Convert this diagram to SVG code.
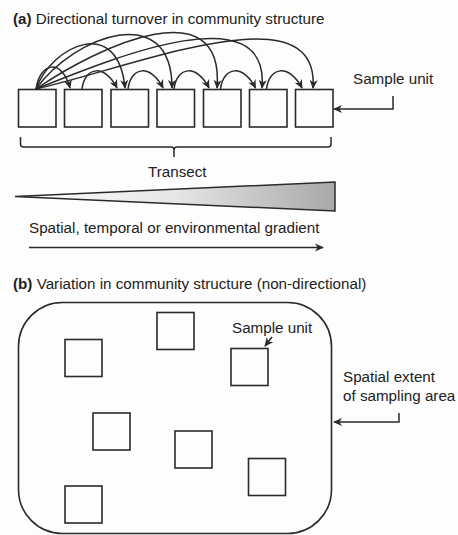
<svg xmlns="http://www.w3.org/2000/svg" width="458" height="535" viewBox="0 0 458 535">
<style>
text{font-family:"Liberation Sans",Arial,sans-serif;font-size:15.2px;fill:#222}
.b{font-weight:bold}
.box{fill:none;stroke:#2a2a2a;stroke-width:1.6}
.ln{fill:none;stroke:#2a2a2a;stroke-width:1.5}
.arr{fill:none;stroke:#2a2a2a;stroke-width:1.5;marker-end:url(#ah)}
</style>
<defs>
<marker id="ah" viewBox="0 0 10 10" refX="9" refY="5" markerWidth="9" markerHeight="9" orient="auto" markerUnits="userSpaceOnUse">
<path d="M0,0.5 L10,5 L0,9.5 L3,5 z" fill="#2a2a2a"/>
</marker>
<linearGradient id="wg" x1="0" y1="0" x2="1" y2="0">
<stop offset="0" stop-color="#ffffff"/>
<stop offset="0.5" stop-color="#e6e6e6"/>
<stop offset="1" stop-color="#a8a8a8"/>
</linearGradient>
</defs>
<rect width="458" height="535" fill="#fdfdfd"/>
<g id="title-a"><text x="13" y="24"><tspan class="b">(a)</tspan> Directional turnover in community structure</text></g>
<g id="transect-units">
<rect class="box" x="18.5" y="89.5" width="37.5" height="37.5"/>
<rect class="box" x="64.5" y="89.5" width="37.5" height="37.5"/>
<rect class="box" x="111" y="89.5" width="37.5" height="37.5"/>
<rect class="box" x="157" y="89.5" width="37.5" height="37.5"/>
<rect class="box" x="203.5" y="89.5" width="37.5" height="37.5"/>
<rect class="box" x="249.5" y="89.5" width="37.5" height="37.5"/>
<rect class="box" x="295.5" y="89.5" width="37.5" height="37.5"/>
</g>
<g id="connectors">
<path class="arr" d="M36,89 C40,62 62,58 70,88"/>
<path class="arr" d="M36,89 C52,45 118,15 125,88"/>
<path class="arr" d="M36,89 C75,35 172,0 172,88"/>
<path class="arr" d="M36,89 C100,45 225,-12 217,88"/>
<path class="arr" d="M36,89 C120,55 270,-5 262,88"/>
<path class="arr" d="M36,89 C140,65 320,-10 313,88"/>
<path class="arr" d="M82,89 C85,66 105,64 117,88"/>
<path class="arr" d="M128,89 C131,66 151,64 163,88"/>
<path class="arr" d="M174,89 C177,66 197,64 209,88"/>
<path class="arr" d="M220.5,89 C223.5,66 243.5,64 255.5,88"/>
<path class="arr" d="M266.5,89 C269.5,66 289.5,64 302,88"/>
<path class="arr" d="M393,96 V109 H334"/>
<path class="ln" d="M20.5,137 V144 Q20.5,147 23.5,147 H171 Q174,147 174,150 V157 M174,150 Q174,147 177,147 H328 Q331,147 331,144 V137"/>
<path class="arr" d="M29,247.5 H323"/>
<path class="arr" d="M272,337 L265,346"/>
<path class="arr" d="M399,413 V422 H334"/>
</g>
<g id="label-sample-a"><text x="353" y="84">Sample unit</text></g>
<g id="label-transect"><text x="148" y="177">Transect</text></g>
<g id="wedge"><polygon points="15,196.5 335,182 335,211" fill="url(#wg)" stroke="#2a2a2a" stroke-width="1.5" stroke-linejoin="miter"/></g>
<g id="label-gradient"><text x="29" y="233">Spatial, temporal or environmental gradient</text></g>
<g id="title-b"><text x="13" y="289"><tspan class="b">(b)</tspan> Variation in community structure (non-directional)</text></g>
<g id="sampling-area"><rect class="box" x="18.5" y="302.5" width="313" height="231" rx="44" ry="44"/></g>
<g id="sample-units-b">
<rect class="box" x="65" y="339.5" width="37" height="37"/>
<rect class="box" x="157" y="312.5" width="37" height="37"/>
<rect class="box" x="231" y="348.5" width="37" height="37"/>
<rect class="box" x="93" y="413" width="37" height="37"/>
<rect class="box" x="175" y="431" width="37" height="37"/>
<rect class="box" x="248.5" y="458.5" width="37" height="37"/>
<rect class="box" x="65" y="486" width="37" height="37"/>
</g>
<g id="label-sample-b"><text x="232" y="333">Sample unit</text></g>
<g id="label-extent"><text x="343" y="382">Spatial extent</text><text x="343" y="401">of sampling area</text></g>
</svg>
